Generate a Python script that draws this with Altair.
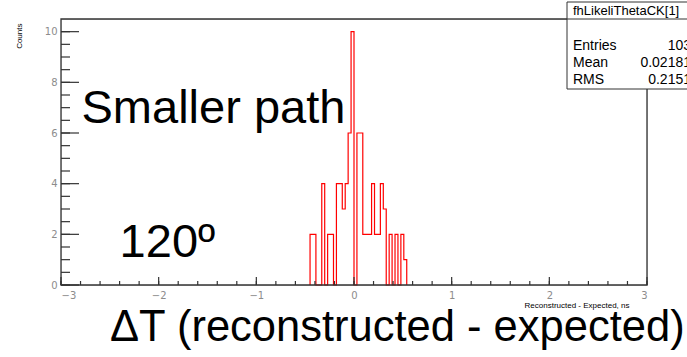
import altair as alt
import pandas as pd

# ---- data ----
bin_left = [-0.45, -0.42, -0.39, -0.36, -0.33, -0.30, -0.27, -0.24, -0.21, -0.18,
            -0.15, -0.12, -0.09, -0.06, -0.03, 0.00, 0.03, 0.06, 0.09, 0.12,
            0.15, 0.18, 0.21, 0.24, 0.27, 0.30, 0.33, 0.36, 0.39, 0.42,
            0.45, 0.48, 0.51]
counts = [2, 2, 0, 0, 4, 0, 2, 2, 0, 4,
          4, 3, 4, 6, 10, 0, 6, 6, 2, 2,
          2, 4, 2, 2, 4, 3, 0, 2, 0, 2,
          0, 2, 1]
bin_width = 0.03

x_ticks_major = [-3, -2, -1, 0, 1, 2, 3]
x_ticks_minor = [round(-3 + 0.2 * i, 2) for i in range(31)]
y_ticks_major = [0, 2, 4, 6, 8, 10]
y_ticks_minor = [0.5 * i for i in range(21)]

stats_names = ["Entries", "Mean", "RMS"]
stats_values = ["103", "0.02181", "0.2151"]
hist_name = "fhLikeliThetaCK[1]"

annot_text = ["Smaller path", "120º"]
annot_x = [-2.79, -2.40]
annot_y = [6.4, 1.1]

big_label = "ΔT (reconstructed - expected)"

# ---- build step outline (histogram drawn as outline) ----
pts_x, pts_y = [], []
pts_x.append(bin_left[0]); pts_y.append(0)
for l, c in zip(bin_left, counts):
    pts_x.append(l); pts_y.append(c)
    pts_x.append(round(l + bin_width, 4)); pts_y.append(c)
pts_x.append(round(bin_left[-1] + bin_width, 4)); pts_y.append(0)
step = pd.DataFrame({"x": pts_x, "y": pts_y, "o": list(range(len(pts_x)))})

W, H = 586, 266
xs = alt.Scale(domain=[-3, 3], nice=False, zero=False)
ys = alt.Scale(domain=[0, 10.5], nice=False, zero=False)

FONT = "Liberation Sans"
LBL = "#8c8c8c"
one = pd.DataFrame({"a": [0]})

hist = alt.Chart(step).mark_line(color="#ff0000", strokeWidth=1.2, interpolate="linear").encode(
    x=alt.X("x:Q", scale=xs,
            axis=alt.Axis(values=x_ticks_major, format="d", ticks=False, grid=False, domain=False,
                          labelFont="DejaVu Sans", labelFontSize=10, labelColor=LBL,
                          labelPadding=5,
                          title="Reconstructed - Expected, ns", titleFont=FONT,
                          titleFontSize=8, titleFontWeight="normal", titleColor="#000",
                          titleAnchor="end", titleAlign="right", titleX=W - 18, titleY=20,
                          titleBaseline="middle")),
    y=alt.Y("y:Q", scale=ys,
            axis=alt.Axis(values=y_ticks_major, format="d", ticks=False, grid=False, domain=False,
                          labelFont="DejaVu Sans", labelFontSize=10, labelColor=LBL,
                          labelPadding=4,
                          title="Counts", titleFont=FONT, titleFontSize=8,
                          titleFontWeight="normal", titleColor="#000",
                          titleAnchor="end", titleAngle=-90, titleAlign="right",
                          titleX=-42, titleY=4, titleBaseline="middle")),
    order="o:Q",
)

# frame
frame = alt.Chart(one).mark_rect(
    fill=None, stroke="#333333", strokeWidth=1.3
).encode(x=alt.value(0), x2=alt.value(W), y=alt.value(0), y2=alt.value(H))

# ticks (drawn inside like ROOT)
ymaj = alt.Chart(pd.DataFrame({"v": y_ticks_major})).mark_rule(color="#333", strokeWidth=1.2).encode(
    y=alt.Y("v:Q", scale=ys), x=alt.value(0), x2=alt.value(18))
ymin = alt.Chart(pd.DataFrame({"v": y_ticks_minor})).mark_rule(color="#333", strokeWidth=1.2).encode(
    y=alt.Y("v:Q", scale=ys), x=alt.value(0), x2=alt.value(9))
xmaj = alt.Chart(pd.DataFrame({"v": x_ticks_major})).mark_rule(color="#333", strokeWidth=1.2).encode(
    x=alt.X("v:Q", scale=xs), y=alt.value(H), y2=alt.value(H - 8))
xmin = alt.Chart(pd.DataFrame({"v": x_ticks_minor})).mark_rule(color="#333", strokeWidth=1.2).encode(
    x=alt.X("v:Q", scale=xs), y=alt.value(H), y2=alt.value(H - 4))

annot = alt.Chart(pd.DataFrame({"t": annot_text, "x": annot_x, "y": annot_y})).mark_text(
    font=FONT, fontSize=47, align="left", baseline="alphabetic", color="#000"
).encode(x=alt.X("x:Q", scale=xs), y=alt.Y("y:Q", scale=ys), text="t:N")

big = alt.Chart(pd.DataFrame({"t": [big_label]})).mark_text(
    font=FONT, fontSize=43.5, align="left", baseline="alphabetic", color="#000"
).encode(x=alt.value(49), y=alt.value(H + 56), text="t:N")

# stats box
box = alt.Chart(one).mark_rect(
    fill="white", stroke="#333333", strokeWidth=1
).encode(x=alt.value(506), x2=alt.value(650), y=alt.value(-17), y2=alt.value(70))
box_head = alt.Chart(one).mark_rule(color="#333333", strokeWidth=1).encode(
    x=alt.value(506), x2=alt.value(650), y=alt.value(0))
head_txt = alt.Chart(pd.DataFrame({"t": [hist_name]})).mark_text(
    font=FONT, fontSize=13, align="left", baseline="middle", color="#000"
).encode(x=alt.value(512), y=alt.value(-8), text="t:N")

row_y = [27, 44, 61]
stat_layers = []
for n, v, yy in zip(stats_names, stats_values, row_y):
    stat_layers.append(alt.Chart(pd.DataFrame({"t": [n]})).mark_text(
        font=FONT, fontSize=14, align="left", baseline="middle", color="#000"
    ).encode(x=alt.value(512), y=alt.value(yy), text="t:N"))
    stat_layers.append(alt.Chart(pd.DataFrame({"t": [v]})).mark_text(
        font=FONT, fontSize=14, align="right", baseline="middle", color="#000"
    ).encode(x=alt.value(630), y=alt.value(yy), text="t:N"))

chart = alt.layer(
    hist, frame, ymaj, ymin, xmaj, xmin, annot, big, box, box_head, head_txt, *stat_layers
).properties(
    width=W, height=H,
    autosize=alt.AutoSizeParams(type="none"),
    padding={"left": 61, "top": 19, "right": 40, "bottom": 72},
).configure_view(stroke=None).configure(background="white")

chart.save("out.html", embed_options={"renderer": "svg", "actions": False})
